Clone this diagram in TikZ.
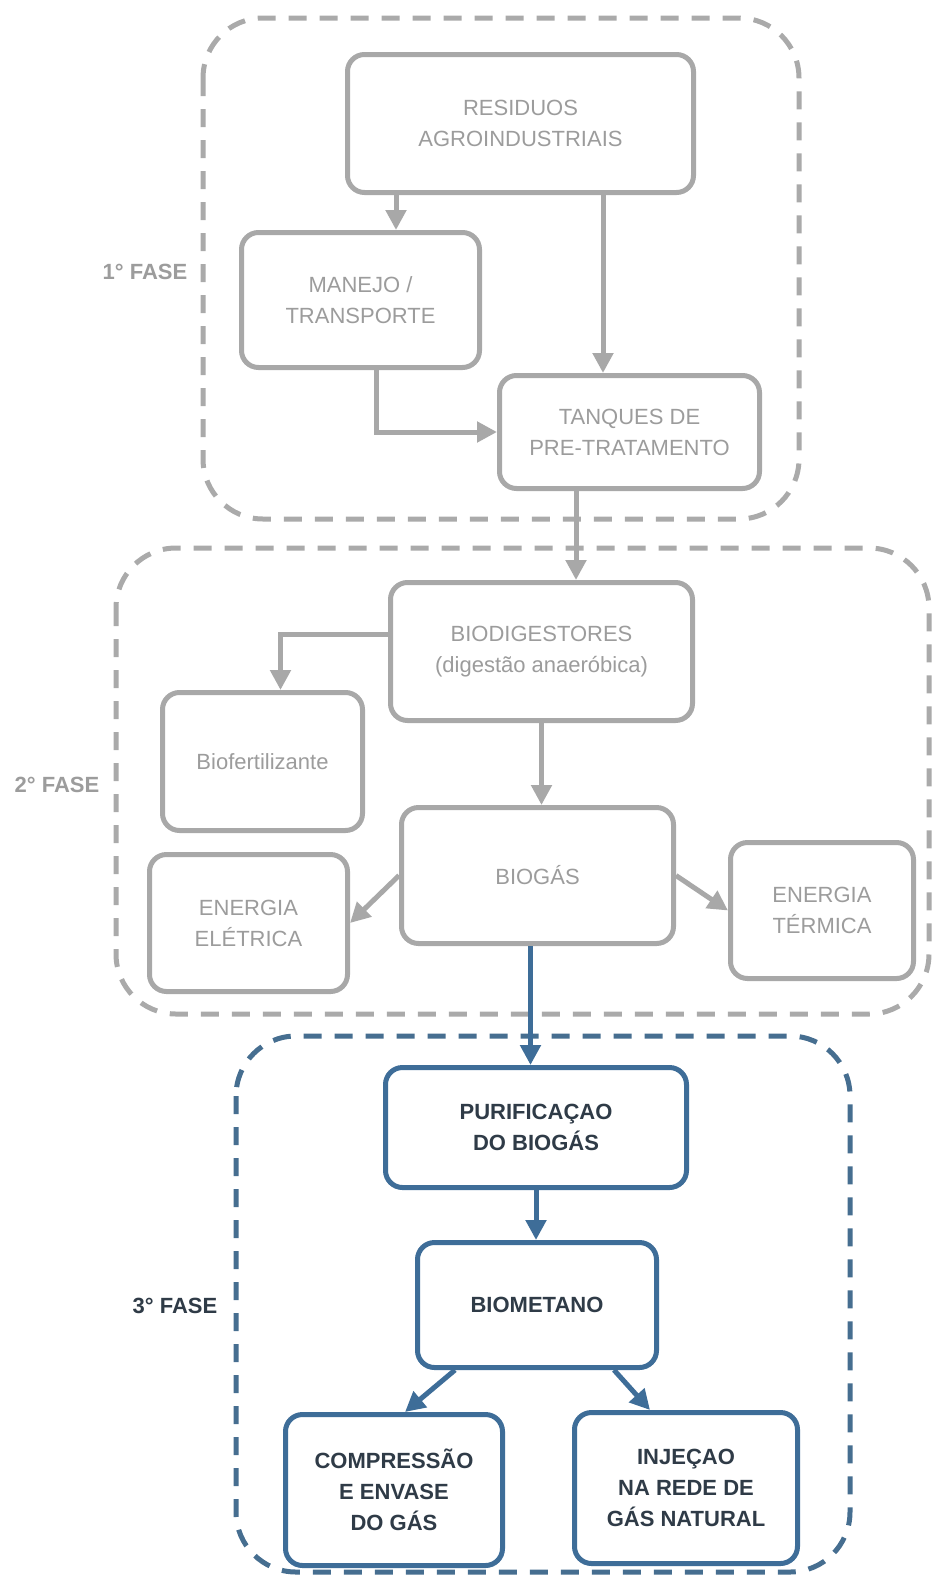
\documentclass[tikz,border=0pt]{standalone}
\usepackage{fontspec}
\setmainfont{Liberation Sans}
\usetikzlibrary{arrows.meta}

\definecolor{boxgray}{HTML}{A8A8A8}
\definecolor{txtgray}{HTML}{9C9C9C}
\definecolor{dashgray}{HTML}{AAAAAA}
\definecolor{boxblue}{HTML}{3E6D98}
\definecolor{dashblue}{HTML}{466E90}
\definecolor{txtblue}{HTML}{2F3B47}

\tikzset{
  graybox/.style={draw=boxgray, line width=5pt, rounded corners=17pt, fill=white,
    text=txtgray, align=center, inner sep=0pt, font=\fontsize{22}{31}\selectfont},
  bluebox/.style={draw=boxblue, line width=5pt, rounded corners=17pt, fill=white,
    text=txtblue, align=center, inner sep=0pt, font=\bfseries\fontsize{22}{31}\selectfont},
  grayarrow/.style={draw=boxgray, line width=5pt, -{Triangle[length=20pt,width=20pt]}},
  bluearrow/.style={draw=boxblue, line width=5pt, -{Triangle[length=20pt,width=20pt]}},
  phasegray/.style={draw=dashgray, line width=5pt, dash pattern=on 18pt off 13pt, rounded corners=60pt},
  phaseblue/.style={draw=dashblue, line width=5pt, dash pattern=on 18pt off 13pt, rounded corners=60pt},
  phaselabel/.style={font=\bfseries\fontsize{22}{26}\selectfont, inner sep=0pt},
  boxsize/.style n args={2}{minimum width=#1, minimum height=#2}
}

\begin{document}
\begin{tikzpicture}[x=1pt, y=-1pt]
  \useasboundingbox[fill=white] (0,0) rectangle (936,1577);

  % phase outlines
  \draw[phasegray] (203,18) rectangle (799,519);
  \draw[phasegray] (116,548) rectangle (929,1014);
  \draw[phaseblue] (236,1036) rectangle (850,1572);

  % phase labels
  \node[phaselabel, text=txtgray] (f1) at (145,272) {1° FASE};
  \node[phaselabel, text=txtgray] (f2) at (57,785) {2° FASE};
  \node[phaselabel, text=txtblue] (f3) at (175,1306) {3° FASE};

  % 1st phase
  \node[graybox, boxsize={346pt}{138pt}] (res) at (520.5,123.5) {RESIDUOS\\AGROINDUSTRIAIS};
  \node[graybox, boxsize={238pt}{135pt}] (man) at (360.5,300) {MANEJO /\\TRANSPORTE};
  \node[graybox, boxsize={260pt}{113pt}] (tan) at (629.5,432) {TANQUES DE\\PRE-TRATAMENTO};

  % 2nd phase
  \node[graybox, boxsize={302pt}{138pt}] (bio) at (541.5,651.5) {BIODIGESTORES\\(digestão anaeróbica)};
  \node[graybox, boxsize={200pt}{138pt}] (fert) at (262.5,761.5) {Biofertilizante};
  \node[graybox, boxsize={272pt}{136pt}] (gas) at (537.5,875.5) {BIOGÁS};
  \node[graybox, boxsize={198pt}{137pt}] (ele) at (248.5,923) {ENERGIA\\ELÉTRICA};
  \node[graybox, boxsize={183pt}{136pt}] (ter) at (822,910.5) {ENERGIA\\TÉRMICA};

  % 3rd phase
  \node[bluebox, boxsize={301pt}{120pt}] (pur) at (536,1127.5) {PURIFICAÇAO\\DO BIOGÁS};
  \node[bluebox, boxsize={239pt}{125pt}] (met) at (537,1305) {BIOMETANO};
  \node[bluebox, boxsize={217pt}{151pt}] (comp) at (394,1490) {COMPRESSÃO\\E ENVASE\\DO GÁS};
  \node[bluebox, boxsize={223pt}{151pt}] (inj) at (686,1488) {INJEÇAO\\NA REDE DE\\GÁS NATURAL};

  % connectors, 1st phase
  \draw[grayarrow] ([xshift=-124.5pt]res.south) -- ([xshift=-124.5pt]res.south |- man.north);
  \draw[grayarrow] ([xshift=82.5pt]res.south) -- ([xshift=82.5pt]res.south |- tan.north);
  \draw[grayarrow] ([xshift=15.5pt]man.south) |- (tan.west);
  \draw[grayarrow] ([xshift=-53.5pt]tan.south) -- ([xshift=-53.5pt]tan.south |- bio.north);

  % connectors, 2nd phase
  \draw[grayarrow] ([yshift=17.5pt]bio.west) -| ([xshift=18pt]fert.north);
  \draw[grayarrow] (bio.south) -- (bio.south |- gas.north);
  \draw[grayarrow] (gas.west) -- (ele.east);
  \draw[grayarrow] (gas.east) -- (ter.west);

  % connectors, 3rd phase
  \draw[bluearrow] ([xshift=-7pt]gas.south) -- ([xshift=-7pt]gas.south |- pur.north);
  \draw[bluearrow] (pur.south) -- (pur.south |- met.north);
  \draw[bluearrow] ([xshift=-82pt]met.south) -- ([xshift=11pt]comp.north);
  \draw[bluearrow] ([xshift=77pt]met.south) -- ([xshift=-36pt]inj.north);
\end{tikzpicture}
\end{document}
